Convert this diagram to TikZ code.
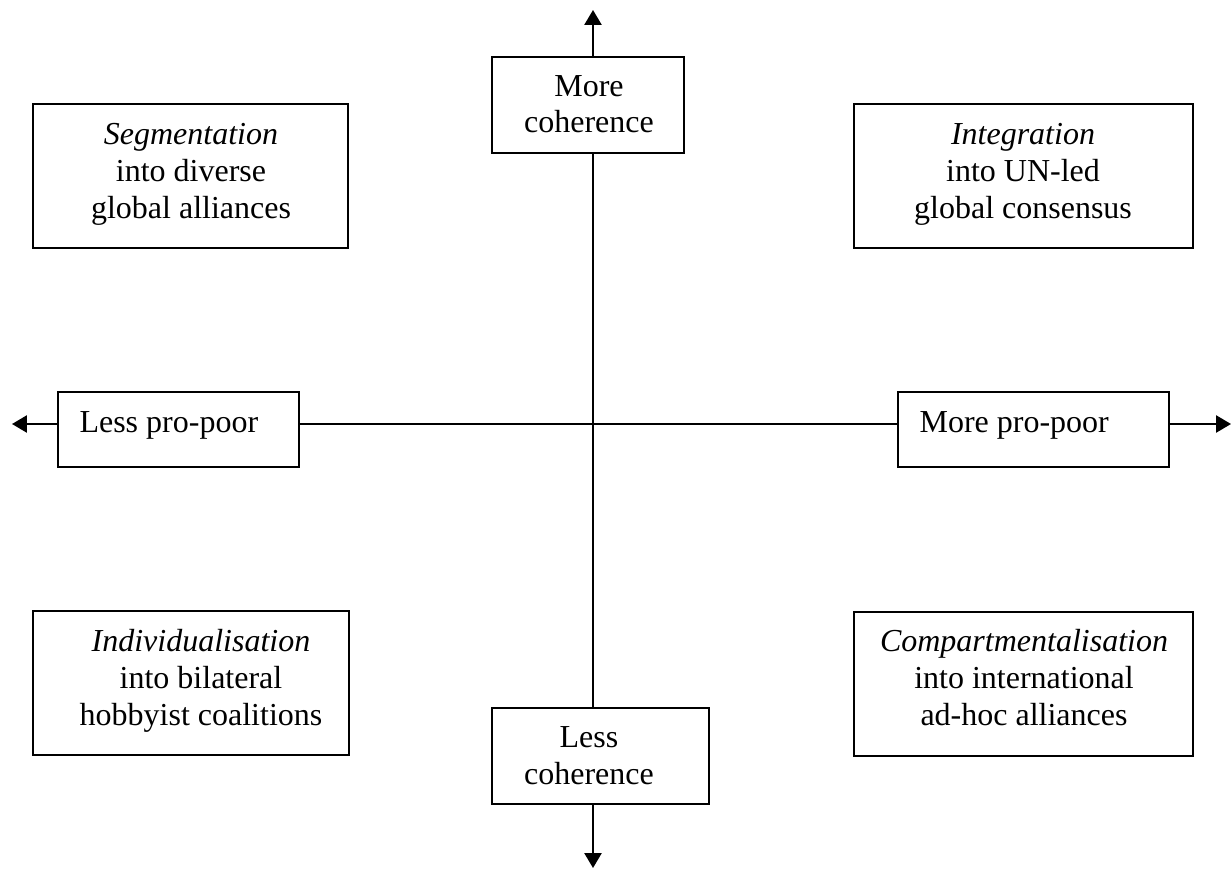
\documentclass[tikz,border=0pt]{standalone}
\usepackage{fontspec}
\setmainfont{Liberation Serif}
\usetikzlibrary{arrows.meta}
\begin{document}
\begin{tikzpicture}[x=0.375pt,y=-0.375pt,
  frame/.style={draw, line width=0.8pt, inner sep=0pt},
  lbl/.style={font=\fontsize{12}{13.8}\selectfont, align=center, anchor=base, inner sep=0pt},
  lblw/.style={font=\fontsize{12}{13.8}\selectfont, anchor=base west, inner sep=0pt},
  axis/.style={line width=0.8pt},
  tip/.style={line width=0.8pt, -{Triangle[length=5.6pt,width=6.4pt]}}]
\useasboundingbox (0,0) rectangle (1232,870);
% quadrant boxes
\node[frame, minimum width={315*0.375pt}, minimum height={144*0.375pt}] (seg) at (190.5,176) {};
\node[lbl] (segt) at (191,218) {\textit{Segmentation}\\into diverse\\global alliances};
\node[frame, minimum width={339*0.375pt}, minimum height={144*0.375pt}] (int) at (1023.5,176) {};
\node[lbl] (intt) at (1023,218) {\textit{Integration}\\into UN-led\\global consensus};
\node[frame, minimum width={316*0.375pt}, minimum height={144*0.375pt}] (ind) at (191,683) {};
\node[lbl] (indt) at (201,725) {\textit{Individualisation}\\into bilateral\\hobbyist coalitions};
\node[frame, minimum width={339*0.375pt}, minimum height={144*0.375pt}] (comp) at (1023.5,684) {};
\node[lbl] (compt) at (1024,725) {\textit{Compartmentalisation}\\into international\\ad-hoc alliances};
% axis boxes
\node[frame, minimum width={192*0.375pt}, minimum height={96*0.375pt}] (mc) at (588,105) {};
\node[lbl] (mct) at (589,133) {More\\coherence};
\node[frame, minimum width={217*0.375pt}, minimum height={96*0.375pt}] (lc) at (600.5,756) {};
\node[lbl] (lct) at (589,784) {Less\\coherence};
\node[frame, minimum width={241*0.375pt}, minimum height={75*0.375pt}] (lpp) at (178.5,429.5) {};
\node[lblw] (lppt) at (79,432) {Less pro-poor};
\node[frame, minimum width={271*0.375pt}, minimum height={75*0.375pt}] (mpp) at (1033.5,429.5) {};
\node[lblw] (mppt) at (919,432) {More pro-poor};
% axis ends
\coordinate (top) at (593,10);
\coordinate (bot) at (593,868);
\coordinate (left) at (12,424);
\coordinate (right) at (1231,424);
% axes
\draw[tip] (mc.north -| top) -- (top);
\draw[axis] (mc.south -| top) -- (lc.north -| top);
\draw[tip] (lc.south -| top) -- (bot);
\draw[tip] (lpp.west |- left) -- (left);
\draw[axis] (lpp.east |- left) -- (mpp.west |- left);
\draw[tip] (mpp.east |- left) -- (right);
\end{tikzpicture}
\end{document}
